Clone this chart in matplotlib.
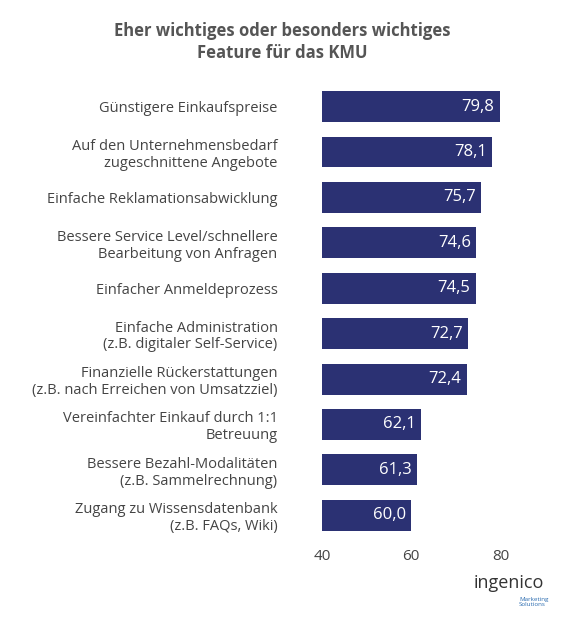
import matplotlib.pyplot as plt

labels = [
    "Günstigere Einkaufspreise",
    "Auf den Unternehmensbedarf\nzugeschnittene Angebote",
    "Einfache Reklamationsabwicklung",
    "Bessere Service Level/schnellere\nBearbeitung von Anfragen",
    "Einfacher Anmeldeprozess",
    "Einfache Administration\n(z.B. digitaler Self-Service)",
    "Finanzielle Rückerstattungen\n(z.B. nach Erreichen von Umsatzziel)",
    "Vereinfachter Einkauf durch 1:1\nBetreuung",
    "Bessere Bezahl-Modalitäten\n(z.B. Sammelrechnung)",
    "Zugang zu Wissensdatenbank\n(z.B. FAQs, Wiki)",
]
values = [79.8, 78.1, 75.7, 74.6, 74.5, 72.7, 72.4, 62.1, 61.3, 60.0]

plt.rcParams['font.family'] = ['Open Sans', 'DejaVu Sans']
fig = plt.figure(figsize=(5.64, 6.17), dpi=100)
ax = fig.add_axes([0.571, 0.128, 0.356, 0.736])

navy = '#2b3173'
ypos = list(range(len(values)))
ax.barh(ypos, [v - 40 for v in values], left=40, height=0.68, color=navy)
for y, v in zip(ypos, values):
    ax.text(v - 1.2, y, f"{v:.1f}".replace('.', ','), color='white',
            ha='right', va='center', fontsize=12)

ax.set_xlim(40, 85)
ax.set_ylim(len(values) - 0.5, -0.5)
ax.set_xticks([40, 60, 80])
ax.set_yticks(ypos)
ax.set_yticklabels(labels, fontsize=10.5, color='#444444', linespacing=1.15)
ax.tick_params(axis='y', length=0, pad=32)
ax.tick_params(axis='x', length=0, labelsize=11, colors='#444444', pad=8)
for s in ax.spines.values():
    s.set_visible(False)
for t in ax.get_yticklabels():
    t.set_horizontalalignment('right')

fig.text(0.5, 0.965, "Eher wichtiges oder besonders wichtiges\nFeature für das KMU",
         ha='center', va='top', fontsize=12, fontweight='bold', color='#555555',
         linespacing=1.3)

fig.text(0.965, 0.055, "ingenico", ha='right', va='center', fontsize=13, color='#333333')
fig.text(0.92, 0.025, "Marketing\nSolutions", ha='left', va='center', fontsize=4.5,
         color='#2b6cb0', linespacing=1.0)

fig.savefig('out.png', dpi=100)
